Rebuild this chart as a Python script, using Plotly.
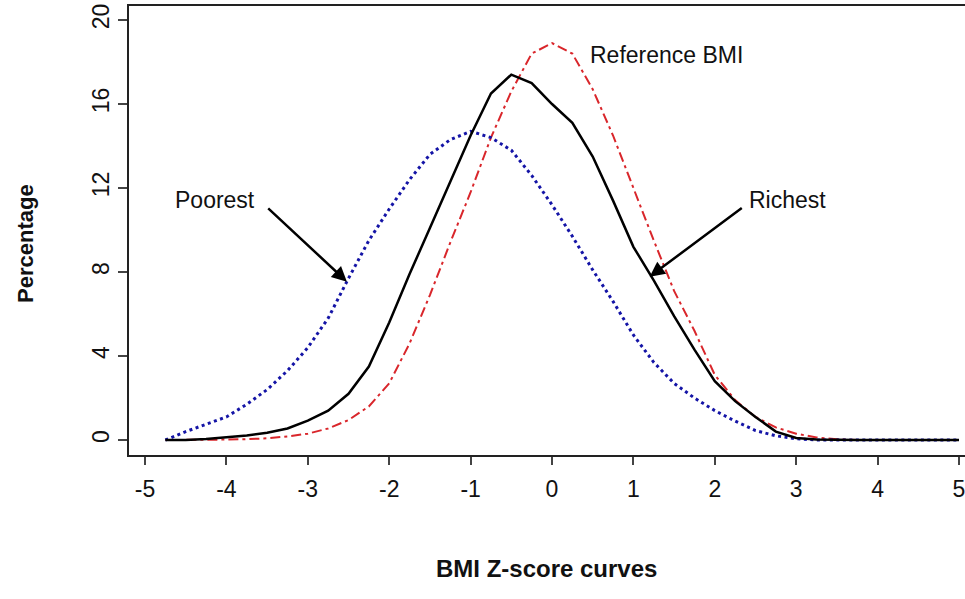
import plotly.graph_objects as go

# ---- data ----
z_score = [-4.75, -4.5, -4.25, -4.0, -3.75, -3.5, -3.25, -3.0, -2.75, -2.5,
           -2.25, -2.0, -1.75, -1.5, -1.25, -1.0, -0.75, -0.5, -0.25, 0.0,
           0.25, 0.5, 0.75, 1.0, 1.25, 1.5, 1.75, 2.0, 2.25, 2.5,
           2.75, 3.0, 3.25, 3.5, 3.75, 4.0, 4.25, 4.5, 4.75, 5.0]

richest = [0.0, 0.0, 0.05, 0.12, 0.22, 0.35, 0.55, 0.92, 1.4, 2.2,
           3.5, 5.6, 7.9, 10.1, 12.3, 14.5, 16.5, 17.4, 17.0, 16.0,
           15.1, 13.5, 11.4, 9.2, 7.6, 5.9, 4.3, 2.8, 1.85, 1.1,
           0.4, 0.1, 0.02, 0.0, 0.0, 0.0, 0.0, 0.0, 0.0, 0.0]

reference = [0.0, 0.0, 0.0, 0.02, 0.04, 0.08, 0.17, 0.3, 0.55, 0.95,
             1.6, 2.7, 4.6, 6.9, 9.4, 11.8, 14.4, 16.6, 18.4, 18.9,
             18.4, 16.7, 14.5, 12.0, 9.5, 7.1, 5.2, 3.1, 1.9, 1.1,
             0.6, 0.3, 0.12, 0.04, 0.0, 0.0, 0.0, 0.0, 0.0, 0.0]

poorest = [0.0, 0.4, 0.75, 1.1, 1.7, 2.4, 3.3, 4.4, 5.8, 7.7,
           9.5, 11.0, 12.4, 13.6, 14.3, 14.7, 14.4, 13.8, 12.6, 11.2,
           9.7, 8.1, 6.6, 5.0, 3.7, 2.7, 2.0, 1.4, 0.9, 0.45,
           0.2, 0.06, 0.0, 0.0, 0.0, 0.0, 0.0, 0.0, 0.0, 0.0]

x_ticks = [-5, -4, -3, -2, -1, 0, 1, 2, 3, 4, 5]
y_ticks = [0, 4, 8, 12, 16, 20]

FONT = "Liberation Sans, Arial, Helvetica, sans-serif"

fig = go.Figure()
fig.add_trace(go.Scatter(x=z_score, y=reference, mode="lines", name="Reference BMI",
                         line=dict(color="#d9262b", width=2, dash="10px,4px,3px,4px")))
fig.add_trace(go.Scatter(x=z_score, y=poorest, mode="lines", name="Poorest",
                         line=dict(color="#1414a6", width=3, dash="3px,3.5px")))
fig.add_trace(go.Scatter(x=z_score, y=richest, mode="lines", name="Richest",
                         line=dict(color="black", width=2.5)))

L, T, B, W, H = 129, 6, 144, 965, 599
PW, PH = W - L, H - T - B


def px(xp, yp):
    return (xp - L) / PW, (H - B - yp) / PH


annotations = []
# curve labels
annotations.append(dict(x=-3.62, y=11.43, xref="x", yref="y", text="Poorest", showarrow=False,
                        xanchor="right", yanchor="middle", font=dict(size=23, color="#111")))
annotations.append(dict(x=2.39, y=11.43, xref="x", yref="y", text="Richest", showarrow=False,
                        xanchor="left", yanchor="middle", font=dict(size=23, color="#111")))
annotations.append(dict(x=0.44, y=18.35, xref="x", yref="y", text="Reference BMI", showarrow=False,
                        xanchor="left", yanchor="middle", font=dict(size=23, color="#111")))
# arrows
annotations.append(dict(x=-2.52, y=7.54, ax=-3.505, ay=11.1, xref="x", yref="y", axref="x", ayref="y",
                        text="", showarrow=True, arrowhead=2, arrowsize=1.2, arrowwidth=2.5,
                        arrowcolor="black"))
annotations.append(dict(x=1.2, y=7.78, ax=2.35, ay=11.1, xref="x", yref="y", axref="x", ayref="y",
                        text="", showarrow=True, arrowhead=2, arrowsize=1.2, arrowwidth=2.5,
                        arrowcolor="black"))
# axis titles
xt, yt = px(25, 244)
annotations.append(dict(x=xt, y=yt, xref="paper", yref="paper", text="<b>Percentage</b>",
                        textangle=-90, showarrow=False, xanchor="center", yanchor="middle",
                        font=dict(size=22, color="#111")))
xt, yt = px(546, 568)
annotations.append(dict(x=xt, y=yt, xref="paper", yref="paper", text="<b>BMI Z-score curves</b>",
                        showarrow=False, xanchor="center", yanchor="middle",
                        font=dict(size=24, color="#111")))

fig.update_layout(
    width=W, height=H,
    margin=dict(l=L, r=0, t=T, b=B),
    plot_bgcolor="white", paper_bgcolor="white",
    showlegend=False,
    font=dict(family=FONT, color="#111"),
    annotations=annotations,
)

fig.update_xaxes(range=[-5.197, 5.074], tickvals=x_ticks, ticktext=[str(v) for v in x_ticks],
                 ticks="outside", ticklen=8, tickwidth=1.5, tickcolor="#444",
                 showline=True, linecolor="#222", linewidth=1.5, mirror=True,
                 showgrid=False, zeroline=False, tickfont=dict(size=23, color="#111"),
                 ticklabelstandoff=5, ticklabeloverflow="allow")
fig.update_yaxes(range=[-0.714, 20.667], tickvals=y_ticks, ticktext=[str(v) for v in y_ticks],
                 ticks="outside", ticklen=9, tickwidth=1.5, tickcolor="#444",
                 showline=True, linecolor="#222", linewidth=1.5, mirror=False,
                 showgrid=False, zeroline=False, tickangle=-90,
                 tickfont=dict(size=23, color="#111"), ticklabelstandoff=0)

fig.write_html("out.html", config={"displayModeBar": False},
               post_script="document.body.style.margin='0';")
